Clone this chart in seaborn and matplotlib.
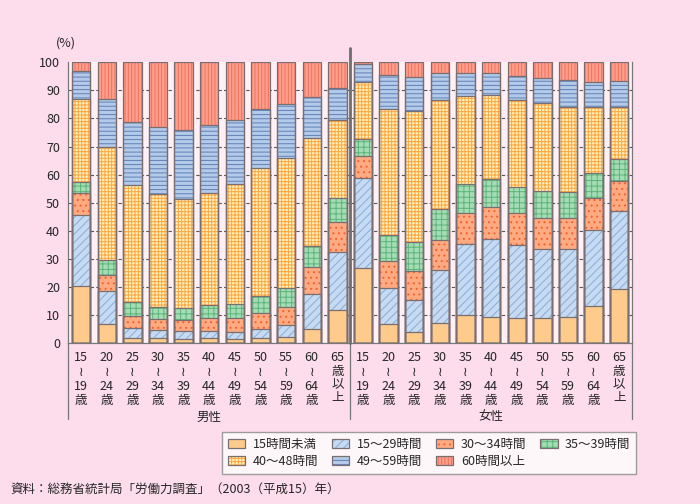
import matplotlib
matplotlib.use("Agg")
import matplotlib.pyplot as plt
import numpy as np
import pandas as pd
import seaborn as sns
from matplotlib.patches import Patch

# --- data (percent of employed persons by weekly hours, 2003) ---
age_from = ["15", "20", "25", "30", "35", "40", "45", "50", "55", "60", "65"]
age_to = ["19", "24", "29", "34", "39", "44", "49", "54", "59", "64", ""]
sexes = ["男性", "女性"]
bands = ["15時間未満", "15〜29時間", "30〜34時間", "35〜39時間",
         "40〜48時間", "49〜59時間", "60時間以上"]

male_u15 = [20.3, 6.8, 1.8, 1.8, 1.4, 1.8, 1.4, 1.9, 2.3, 5.0, 11.9]
male_15_29 = [25.2, 11.7, 3.5, 2.8, 2.9, 2.6, 2.6, 3.2, 4.1, 12.4, 20.6]
male_30_34 = [7.9, 5.7, 4.5, 3.9, 3.9, 4.5, 4.9, 5.6, 6.5, 9.6, 10.6]
male_35_39 = [3.9, 5.5, 4.8, 4.3, 4.3, 4.7, 5.0, 6.1, 6.7, 7.6, 8.6]
male_40_48 = [29.5, 40.1, 41.6, 40.2, 39.0, 39.8, 42.7, 45.5, 46.2, 38.4, 27.8]
male_49_59 = [10.0, 17.0, 22.4, 23.9, 24.3, 24.1, 22.9, 21.0, 19.3, 14.5, 11.2]
male_60 = [3.2, 13.2, 21.4, 23.1, 24.2, 22.5, 20.5, 16.7, 14.9, 12.5, 9.3]

female_u15 = [26.7, 6.8, 3.9, 7.1, 10.0, 9.3, 8.9, 9.0, 9.3, 13.3, 19.2]
female_15_29 = [32.0, 12.9, 11.4, 18.9, 25.3, 27.9, 26.0, 24.5, 24.2, 26.9, 27.7]
female_30_34 = [7.8, 9.5, 10.4, 10.9, 11.2, 11.2, 11.4, 11.0, 11.0, 11.5, 10.8]
female_35_39 = [6.2, 9.3, 10.4, 10.8, 10.1, 10.0, 9.3, 9.6, 9.2, 8.8, 7.9]
female_40_48 = [20.2, 45.0, 46.5, 39.0, 31.5, 29.9, 30.9, 31.3, 30.5, 23.7, 18.6]
female_49_59 = [6.5, 11.9, 12.3, 9.4, 8.0, 7.8, 8.5, 8.9, 9.4, 8.9, 9.0]
female_60 = [0.6, 4.6, 5.1, 3.9, 3.9, 3.9, 5.0, 5.7, 6.4, 6.9, 6.8]

male = [male_u15, male_15_29, male_30_34, male_35_39, male_40_48, male_49_59, male_60]
female = [female_u15, female_15_29, female_30_34, female_35_39, female_40_48, female_49_59, female_60]

# fill, hatch, hatch colour per band
fills = ["#FFCB8C", "#C6DBF1", "#FFAA80", "#A4DDB4", "#FFF1BC", "#B3CAE8", "#FF9F8C"]
hatches = ["", "////", "...", "+++", "+++++", "----", "|||||"]
hatch_cols = ["#FFCB8C", "#86ACD8", "#F2602E", "#5DB47A", "#FFA640", "#5F80B8", "#F0705E"]
outline = "#7B6E70"

rows = []
for sex, vals in zip(sexes, [male, female]):
    for i, a in enumerate(age_from):
        for b, band in enumerate(bands):
            rows.append({"key": f"{sex}{a}", "band": band, "order": b, "value": vals[b][i]})
df = pd.DataFrame(rows)
df["cum"] = df.groupby("key")["value"].cumsum()
keys = list(dict.fromkeys(df["key"]))

sns.set_style("white")
plt.rcParams["font.family"] = ["Noto Sans CJK JP", "DejaVu Sans"]
plt.rcParams["hatch.linewidth"] = 0.7

fig = plt.figure(figsize=(7, 5.04), dpi=100, facecolor="#FDDCEB")
ax = fig.add_axes([0.0976, 0.3188, 0.8053, 0.5578])
ax.set_facecolor("#FFF0F6")

for b in reversed(range(len(bands))):
    sub = df[df["order"] == b]
    sns.barplot(data=sub, x="key", y="cum", order=keys, color=fills[b], saturation=1,
                hatch=hatches[b], edgecolor=hatch_cols[b], linewidth=0,
                width=0.72, errorbar=None, ax=ax, zorder=2)
    sns.barplot(data=sub, x="key", y="cum", order=keys, color=outline, saturation=1,
                fill=False, linewidth=0.9, width=0.72, errorbar=None, ax=ax, zorder=3)

ax.set_xlim(-0.5, len(keys) - 0.5)
ax.set_ylim(0, 100)
ax.set_xlabel("")
ax.set_ylabel("")
ax.hlines(np.arange(10, 100, 10), -0.5, len(keys) - 0.5, colors="#555555",
          linestyles=(0, (3, 2)), linewidth=0.8, zorder=1)

ax.set_yticks(np.arange(0, 101, 10))
ax.tick_params(axis="y", labelsize=9, length=4, color="#777777", width=0.9, pad=2)
ax.set_xticks(np.arange(-0.5, len(keys)), [""] * (len(keys) + 1))
ax.tick_params(axis="x", length=44.5, color="#777777", width=0.9)
ax.spines["top"].set_visible(False)
for side in ["left", "right", "bottom"]:
    ax.spines[side].set_color("#777777")
    ax.spines[side].set_linewidth(0.9)

# age labels under each bar
tr = ax.get_xaxis_transform()
px = 1 / 281.3
for s in range(2):
    for i, (a, t) in enumerate(zip(age_from, age_to)):
        x = s * 11 + i
        if t:
            lines = [(a, 357), ("≀", 372), (t, 387), ("歳", 401)]
        else:
            lines = [(a, 357), ("歳", 371), ("以", 384), ("上", 398)]
        for txt, yp in lines:
            ax.text(x, (343.3 - yp) * px, txt, transform=tr, ha="center", va="center",
                    fontsize=9, clip_on=False)
    ax.text(s * 11 + 5, (343.3 - 417) * px, sexes[s], transform=tr, ha="center",
            va="center", fontsize=9, clip_on=False)

# longer boundary lines for the two groups
for xb in [-0.5, 10.5, 21.5]:
    ax.plot([xb, xb], [0, (343.3 - 419) * px], transform=tr, color="#777777",
            lw=0.9, clip_on=False)
ax.plot([10.5, 10.5], [(343.3 - 48) * px, 0], transform=tr, color="#6E6E6E",
        lw=2, clip_on=False, zorder=5)

fig.text(66 / 700, 1 - 43 / 504, "(%)", ha="center", va="center", fontsize=9)

handles = [(Patch(facecolor=fills[b], edgecolor=hatch_cols[b], hatch=hatches[b], linewidth=0),
            Patch(facecolor="none", edgecolor=outline, linewidth=0.9)) for b in range(len(bands))]
idx = [0, 4, 1, 5, 2, 6, 3]
leg = fig.legend([handles[i] for i in idx], [bands[i] for i in idx], ncol=4,
                 loc="center", bbox_to_anchor=(429 / 700, 1 - 453 / 504), fontsize=9,
                 frameon=True, fancybox=False, edgecolor="#888888", handlelength=1.4,
                 handleheight=0.75, handletextpad=0.6, columnspacing=1.1,
                 labelspacing=0.35, borderpad=0.45)
leg.get_frame().set_linewidth(1.0)

fig.text(10 / 700, 1 - 489 / 504, "資料：総務省統計局「労働力調査」（2003（平成15）年）",
         ha="left", va="center", fontsize=9)

fig.savefig("out.png", dpi=100, facecolor=fig.get_facecolor())
